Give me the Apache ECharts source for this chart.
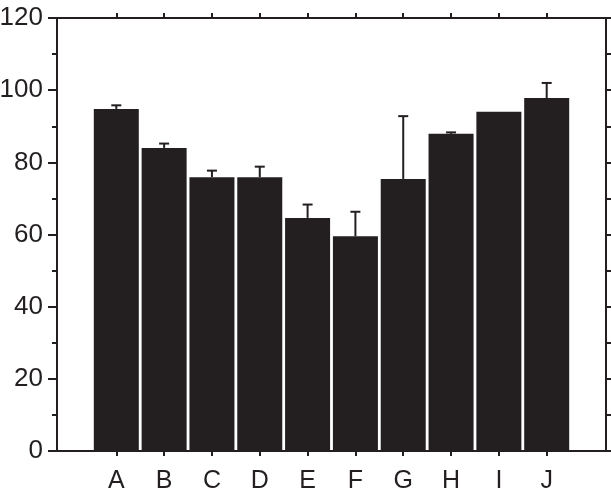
<!DOCTYPE html>
<html>
<head>
<meta charset="utf-8">
<script src="https://cdn.jsdelivr.net/npm/echarts@6/dist/echarts.min.js"></script>
<style>
  html, body { margin: 0; padding: 0; background: #fff; }
  #chart { width: 611px; height: 492px; }
</style>
</head>
<body>
<div id="chart"></div>
<script>
const categories = ['A', 'B', 'C', 'D', 'E', 'F', 'G', 'H', 'I', 'J']
const means = [94.8, 84.0, 75.9, 75.9, 64.6, 59.5, 75.4, 87.9, 94.0, 97.8]
const errors = [1.0, 1.2, 1.8, 2.9, 3.7, 6.8, 17.4, 0.4, 0, 4.2]
const yTicks = [0, 20, 40, 60, 80, 100, 120]

const ink = '#231f20'
const font = '"Liberation Sans Narrow", "Liberation Sans", Arial, sans-serif'

// x positions of the categories on a value axis, so the frame can extend past the outer bars
const xStart = 1.24
const xMax = 11.48
const positions = categories.map((c, i) => xStart + i)

const chart = echarts.init(document.getElementById('chart'))

const option = {
  animation: false,
  backgroundColor: '#fff',
  grid: { left: 57, right: 5, top: 18, bottom: 41, outerBoundsMode: 'none', containLabel: false },
  xAxis: [
    {
      type: 'value',
      min: 0,
      max: xMax,
      position: 'bottom',
      splitLine: { show: false },
      axisLine: { show: true, onZero: false, lineStyle: { color: ink, width: 2 } },
      axisTick: { show: true, customValues: positions, length: 5, lineStyle: { color: ink, width: 2 } },
      axisLabel: {
        customValues: positions,
        formatter: (v) => categories[Math.round(v - xStart)],
        color: ink,
        fontFamily: font,
        fontSize: 25,
        margin: 18
      }
    },
    {
      type: 'value',
      min: 0,
      max: xMax,
      position: 'top',
      splitLine: { show: false },
      axisLine: { show: true, onZero: false, lineStyle: { color: ink, width: 2 } },
      axisTick: { show: true, customValues: positions, length: 5, lineStyle: { color: ink, width: 2 } },
      axisLabel: { show: false }
    }
  ],
  yAxis: [
    {
      type: 'value',
      min: 0,
      max: 120,
      interval: 20,
      position: 'left',
      splitLine: { show: false },
      axisLine: { show: true, onZero: false, lineStyle: { color: ink, width: 2 } },
      axisTick: { show: true, length: 9, lineStyle: { color: ink, width: 2 } },
      minorTick: { show: true, splitNumber: 2, length: 5, lineStyle: { color: ink, width: 2 } },
      minorSplitLine: { show: false },
      axisLabel: {
        customValues: yTicks,
        color: ink,
        fontFamily: font,
        fontSize: 26,
        margin: 14
      }
    },
    {
      type: 'value',
      min: 0,
      max: 120,
      interval: 10,
      position: 'right',
      splitLine: { show: false },
      axisLine: { show: true, onZero: false, lineStyle: { color: ink, width: 2 } },
      axisTick: { show: true, length: 5, lineStyle: { color: ink, width: 2 } },
      axisLabel: { show: false }
    }
  ],
  series: [
    {
      type: 'bar',
      xAxisIndex: 0,
      yAxisIndex: 0,
      barWidth: 45,
      data: positions.map((x, i) => [x, means[i]]),
      itemStyle: { color: ink }
    },
    {
      type: 'custom',
      xAxisIndex: 0,
      yAxisIndex: 0,
      data: positions.map((x, i) => [x, means[i], means[i] + errors[i]]),
      renderItem: (params, api) => {
        if (api.value(2) - api.value(1) <= 0) return null
        const lo = api.coord([api.value(0), api.value(1)])
        const hi = api.coord([api.value(0), api.value(2)])
        const style = { stroke: ink, lineWidth: 2 }
        return {
          type: 'group',
          children: [
            { type: 'line', shape: { x1: lo[0], y1: lo[1], x2: hi[0], y2: hi[1] }, style },
            { type: 'line', shape: { x1: hi[0] - 5, y1: hi[1], x2: hi[0] + 5, y2: hi[1] }, style }
          ]
        }
      },
      z: 3
    }
  ]
}

chart.setOption(option)
</script>
</body>
</html>
